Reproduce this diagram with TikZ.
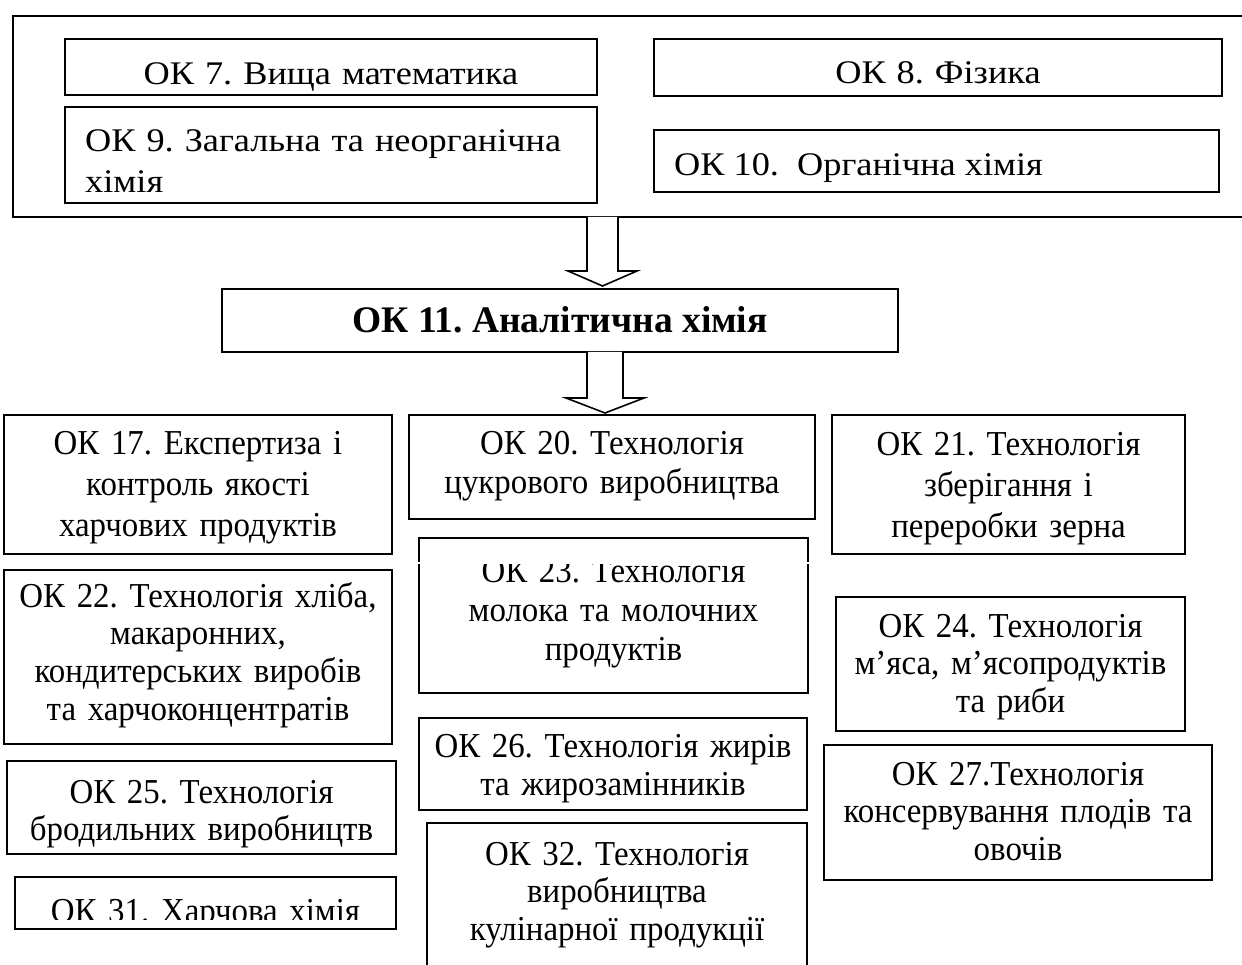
\documentclass[tikz,border=0pt]{standalone}
\usepackage{fontspec}
\setmainfont{Liberation Serif}
\newfontfamily\topfam{Liberation Serif}[FakeStretch=1.1]
\newfontfamily\botfam{Liberation Serif}[FakeStretch=0.94]
\usetikzlibrary{calc}
\frenchspacing
\newcommand\topsz[1]{\topfam\fontsize{33}{#1}\selectfont}
\newcommand\botsz[1]{\botfam\fontsize{35}{#1}\selectfont}
\newcommand\okbox[5]{\node[obox, anchor=north west, minimum width={#4-#2}, minimum height={#5-#3}] (#1) at (#2,#3) {};}
\tikzset{
  obox/.style={draw, line width=1.6pt, inner sep=0pt, outer sep=0pt},
  txt/.style={inner sep=0pt, anchor=base, align=center, text width=460pt, font=\botsz{#1}},
  toptxt/.style={inner sep=0pt, anchor=base, align=center, text width=560pt, font=\topsz{38}},
  blockarrow/.style={draw, fill=white, line width=1.6pt, line join=miter},
}
\begin{document}
\begin{tikzpicture}[x=1pt,y=-1pt]
\useasboundingbox (0,0) rectangle (1242,965);
\clip (0,0) rectangle (1242,965);
% ---------- top group ----------
\okbox{outer}{13}{16}{1262}{217}
\okbox{ok7}{65}{39}{597}{95}
\node[toptxt] (ok7t) at (331,85) {ОК 7. Вища математика};
\okbox{ok8}{654}{39}{1222}{96}
\node[toptxt] (ok8t) at (938,84) {ОК 8. Фізика};
\okbox{ok9}{65}{107}{597}{203}
\node[inner sep=0pt, anchor=base west, align=left, text width=490pt, font=\topsz{41}] (ok9t) at (85,152)
  {\makebox[490pt][s]{ОК 9. Загальна та неорганічна}\\хімія};
\okbox{ok10}{654}{130}{1219}{192}
\node[inner sep=0pt, anchor=base west, font=\topsz{38}] (ok10t) at (674,176) {ОК 10.\ \ Органічна хімія};
% ---------- central box ----------
\okbox{ok11}{222}{289}{898}{352}
\node[inner sep=0pt, anchor=base, font=\fontsize{37.5}{42}\selectfont\bfseries] (ok11t) at (560,333) {ОК 11. Аналітична хімія};
% ---------- block arrows ----------
\coordinate (a1top) at (outer.south -| 602.5,0);
\coordinate (a1base) at (ok11.north -| 602.5,0);
\coordinate (a1tip) at ($(a1base)+(0,-3)$);
\draw[blockarrow] ($(a1top)+(-15.5,0)$) -- ($(a1tip)+(-15.5,-15)$) -- ($(a1tip)+(-34.5,-15)$) -- (a1tip)
  -- ($(a1tip)+(34.5,-15)$) -- ($(a1tip)+(15.5,-15)$) -- ($(a1top)+(15.5,0)$);
% ---------- bottom boxes ----------
\okbox{ok17}{4}{415}{392}{554}
\node[txt=41.3] (ok17t) at (198,454) {ОК 17. Експертиза і\\контроль якості\\харчових продуктів};
\okbox{ok20}{409}{415}{815}{519}
\node[txt=39] (ok20t) at (612,454) {ОК 20. Технологія\\цукрового виробництва};
\okbox{ok21}{832}{415}{1185}{554}
\node[txt=41] (ok21t) at (1008.5,455) {ОК 21. Технологія\\зберігання і\\переробки зерна};
\okbox{ok22}{4}{570}{392}{744}
\node[txt=37.7] (ok22t) at (198,607) {ОК 22. Технологія хліба,\\макаронних,\\кондитерських виробів\\та харчоконцентратів};
\okbox{ok23}{419}{538}{808}{693}
\begin{scope}
  \clip (419,563) rectangle (808,693);
  \node[txt=39] (ok23t) at (613.5,582) {ОК 23. Технологія\\молока та молочних\\продуктів};
\end{scope}
\coordinate (w1) at (ok23.north west |- 0,563);
\coordinate (w2) at (ok23.north east |- 0,563);
\draw[white, line width=1.5pt] ($(w1)+(-8,0)$) -- ($(w2)+(8,0)$);
\okbox{ok24}{836}{597}{1185}{731}
\node[txt=37.5] (ok24t) at (1010.5,637) {ОК 24. Технологія\\м’яса, м’ясопродуктів\\та риби};
\okbox{ok25}{7}{761}{396}{854}
\begin{scope}
  \clip (7,761) rectangle (396,847);
  \node[txt=37] (ok25t) at (201.5,803) {ОК 25. Технологія\\бродильних виробництв};
\end{scope}
\okbox{ok26}{419}{718}{807}{810}
\node[txt=38] (ok26t) at (613,757) {ОК 26. Технологія жирів\\та жирозамінників};
\okbox{ok27}{824}{745}{1212}{880}
\node[txt=37.5] (ok27t) at (1018,785) {ОК 27.Технологія\\консервування плодів та\\овочів};
\okbox{ok31}{15}{877}{396}{929}
\begin{scope}
  \clip (15,877) rectangle (396,919);
  \node[txt=38] (ok31t) at (205.5,922) {ОК 31. Харчова хімія};
\end{scope}
\okbox{ok32}{427}{823}{807}{990}
\node[txt=37.5] (ok32t) at (617,865) {ОК 32. Технологія\\виробництва\\кулінарної продукції};
% ---------- second arrow ----------
\coordinate (a2top) at (ok11.south -| 605,0);
\coordinate (a2base) at (ok20.north -| 605,0);
\coordinate (a2tip) at ($(a2base)+(0,-2)$);
\draw[blockarrow] ($(a2top)+(-18,0)$) -- ($(a2tip)+(-18,-15)$) -- ($(a2tip)+(-39,-15)$) -- (a2tip)
  -- ($(a2tip)+(39,-15)$) -- ($(a2tip)+(18,-15)$) -- ($(a2top)+(18,0)$);
\end{tikzpicture}
\end{document}
